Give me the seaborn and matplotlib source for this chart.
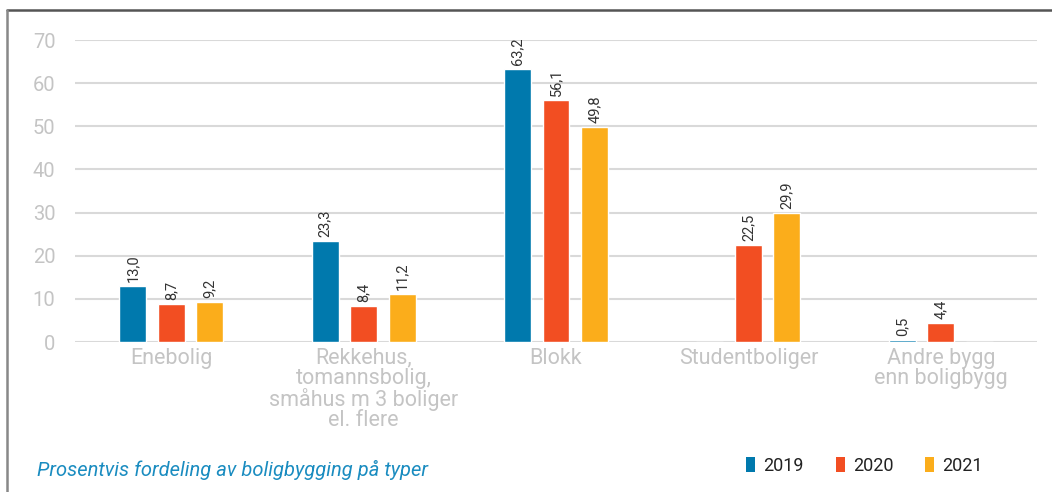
import matplotlib
matplotlib.use("Agg")
import matplotlib.pyplot as plt
import seaborn as sns
import pandas as pd
from matplotlib.lines import Line2D
from matplotlib.patches import Patch

categories = ["Enebolig", "Rekkehus,\ntomannsbolig,\nsmåhus m 3 boliger\nel. flere", "Blokk",
              "Studentboliger", "Andre bygg\nenn boligbygg"]
years = ["2019", "2020", "2021"]
v2019 = [13.0, 23.3, 63.2, 0.0, 0.5]
v2020 = [8.7, 8.4, 56.1, 22.5, 4.4]
v2021 = [9.2, 11.2, 49.8, 29.9, 0.0]
yticks = [0, 10, 20, 30, 40, 50, 60, 70]
caption = "Prosentvis fordeling av boligbygging på typer"
colors = ["#0079AD", "#F24E22", "#FBAD1B"]

rows = []
for y, vals in zip(years, [v2019, v2020, v2021]):
    for c, v in zip(categories, vals):
        rows.append({"cat": c, "year": y, "value": v})
df = pd.DataFrame(rows)

sns.set_theme(style="white")
plt.rcParams["font.family"] = ["Roboto", "DejaVu Sans"]

fig = plt.figure(figsize=(10.52, 4.92), dpi=100)
ax = fig.add_axes([75/1052, 150/492, 962/1052, 302/492])

sns.barplot(data=df, x="cat", y="value", hue="year", palette=colors,
            width=0.6, gap=0.3, ax=ax, legend=False, saturation=1,
            order=categories, hue_order=years)

for cont in ax.containers:
    labels = [("" if b.get_height() == 0 else f"{b.get_height():.1f}".replace(".", ","))
              for b in cont]
    ax.bar_label(cont, labels=labels, rotation=90, padding=3, fontsize=10.5, color="#333333")

ax.set_xlim(-0.5, 4.5)
ax.set_ylim(0, 70)
ax.set_yticks(yticks)
ax.yaxis.grid(True, color="#d9d9d9", linewidth=1.5)
ax.set_axisbelow(True)
for s in ax.spines.values():
    s.set_visible(False)
ax.tick_params(axis="y", length=0, pad=14, labelsize=14.5, labelcolor="#c4c4c4")
ax.tick_params(axis="x", length=0, pad=4, labelsize=15.5, labelcolor="#c4c4c4")
for t in ax.get_xticklabels():
    t.set_linespacing(0.95)
ax.set_xlabel("")
ax.set_ylabel("")

fig.text(37/1052, 1 - 470/492, caption, fontsize=14.5, style="italic", color="#1a8cc0",
         va="center", ha="left")

handles = [Patch(facecolor=c, edgecolor="none") for c in colors]
fig.legend(handles, years, loc="center left", bbox_to_anchor=(730/1052, 1 - 466/492),
           ncol=3, frameon=False, fontsize=13, handlelength=0.5, handleheight=0.9,
           handletextpad=0.45, columnspacing=1.75, labelcolor="#222222")

fig.add_artist(Line2D([7/1052, 1], [1 - 9.5/492, 1 - 9.5/492], color="#555555", linewidth=1.8,
                      transform=fig.transFigure))
fig.add_artist(Line2D([7/1052, 7/1052], [0, 1 - 9.5/492], color="#888888", linewidth=1.8,
                      transform=fig.transFigure))

fig.savefig("out.png", dpi=100)
